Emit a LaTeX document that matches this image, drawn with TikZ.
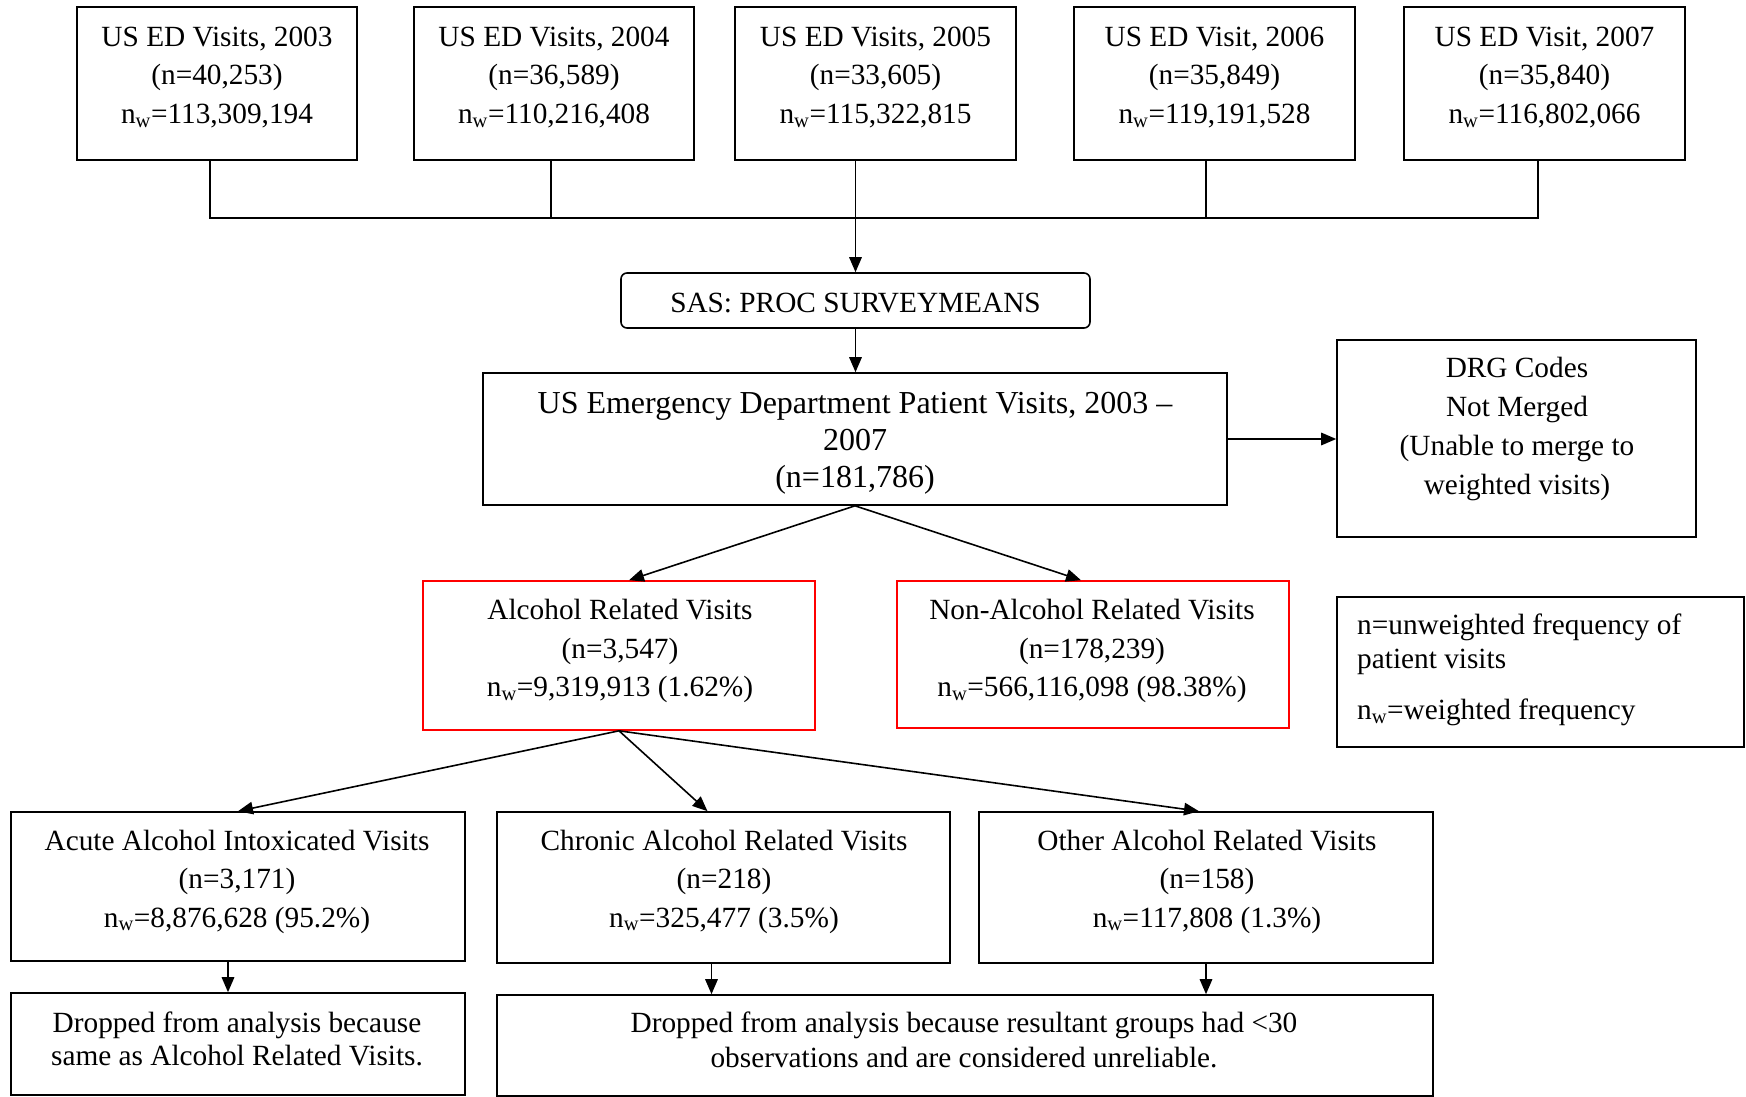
\documentclass[tikz,border=0pt]{standalone}
\usepackage{fontspec}
\setmainfont{Liberation Serif}
\usetikzlibrary{arrows.meta,calc}
\begin{document}
\begin{tikzpicture}[x=1pt,y=-1pt,
  box/.style={draw, line width=1.6pt, rectangle, inner sep=0pt},
  redbox/.style={box, draw=red},
  txt/.style={align=center, inner sep=0pt, font=\fontsize{29.3pt}{38.5pt}\selectfont},
  bigtxt/.style={align=center, inner sep=0pt, font=\fontsize{32pt}{37pt}\selectfont},
  conn/.style={line width=1.6pt},
  arr/.style={line width=1.6pt, -{Triangle[length=15pt,width=12.5pt]}}]
\useasboundingbox (0,0) rectangle (1746,1097);

% top row
\node[box, minimum width=280pt, minimum height=153pt] (b1) at (217,83.5) {};
\node[box, minimum width=280pt, minimum height=153pt] (b2) at (554,83.5) {};
\node[box, minimum width=281pt, minimum height=153pt] (b3) at (875.5,83.5) {};
\node[box, minimum width=281pt, minimum height=153pt] (b4) at (1214.5,83.5) {};
\node[box, minimum width=281pt, minimum height=153pt] (b5) at (1544.5,83.5) {};
\node[txt] (t1) at (217,77.5) {US ED Visits, 2003\\(n=40,253)\\n\textsubscript{w}=113,309,194};
\node[txt] (t2) at (554,77.5) {US ED Visits, 2004\\(n=36,589)\\n\textsubscript{w}=110,216,408};
\node[txt] (t3) at (875.5,77.5) {US ED Visits, 2005\\(n=33,605)\\n\textsubscript{w}=115,322,815};
\node[txt] (t4) at (1214.5,77.5) {US ED Visit, 2006\\(n=35,849)\\n\textsubscript{w}=119,191,528};
\node[txt] (t5) at (1544.5,77.5) {US ED Visit, 2007\\(n=35,840)\\n\textsubscript{w}=116,802,066};

% SAS
\node[box, rounded corners=6pt, minimum width=469pt, minimum height=55pt, text height=24.4pt, text depth=0pt, font=\fontsize{29.3pt}{38.5pt}\selectfont] (sas) at (855.5,300.5) {SAS: PROC SURVEYMEANS};

% main
\node[box, minimum width=744pt, minimum height=132pt] (main) at (855,439) {};
\node[bigtxt] (maint) at (855,443.5) {US Emergency Department Patient Visits, 2003 --\\2007\\(n=181,786)};

% DRG
\node[box, minimum width=359pt, minimum height=197pt] (drg) at (1516.5,438.5) {};
\node[txt, font=\fontsize{29.3pt}{39pt}\selectfont] (drgt) at (1517,429) {DRG Codes\\Not Merged\\(Unable to merge to\\weighted visits)};

% alcohol / non-alcohol
\node[redbox, minimum width=392pt, minimum height=149pt] (alc) at (619,655.5) {};
\node[txt] (alct) at (620,651) {Alcohol Related Visits\\(n=3,547)\\n\textsubscript{w}=9,319,913 (1.62\%)};
\node[redbox, minimum width=392pt, minimum height=147pt] (non) at (1093,654.5) {};
\node[txt] (nont) at (1092,651) {Non-Alcohol Related Visits\\(n=178,239)\\n\textsubscript{w}=566,116,098 (98.38\%)};

% legend
\node[box, minimum width=407pt, minimum height=150pt] (leg) at (1540.5,672) {};
\node[txt, align=left, anchor=west, font=\fontsize{29.3pt}{34pt}\selectfont] (legt) at (1357,670) {n=unweighted frequency of\\patient visits\\[17pt]n\textsubscript{w}=weighted frequency};

% third level
\node[box, minimum width=454pt, minimum height=149pt] (acu) at (238,886.5) {};
\node[txt] (acut) at (237,881.5) {Acute Alcohol Intoxicated Visits\\(n=3,171)\\n\textsubscript{w}=8,876,628 (95.2\%)};
\node[box, minimum width=453pt, minimum height=151pt] (chr) at (723.5,887.5) {};
\node[txt] (chrt) at (724,881.5) {Chronic Alcohol Related Visits\\(n=218)\\n\textsubscript{w}=325,477 (3.5\%)};
\node[box, minimum width=454pt, minimum height=151pt] (oth) at (1206,887.5) {};
\node[txt] (otht) at (1207,881.5) {Other Alcohol Related Visits\\(n=158)\\n\textsubscript{w}=117,808 (1.3\%)};

% bottom
\node[box, minimum width=454pt, minimum height=102pt] (dr1) at (238,1044) {};
\node[txt, font=\fontsize{29.3pt}{33pt}\selectfont] (dr1t) at (237,1038.5) {Dropped from analysis because\\same as Alcohol Related Visits.};
\node[box, minimum width=936pt, minimum height=101pt] (dr2) at (965,1045.5) {};
\node[txt, font=\fontsize{29.3pt}{34.5pt}\selectfont] (dr2t) at (964,1040) {Dropped from analysis because resultant groups had <30\\observations and are considered unreliable.};

% connectors
\coordinate (bus) at (855.5,218);
\draw[conn] ([xshift=-7pt]b1.south) |- (bus);
\draw[conn] ([xshift=-3pt]b2.south) |- (bus);
\draw[conn] ([xshift=-8.5pt]b4.south) |- (bus);
\draw[conn] ([xshift=-6.5pt]b5.south) |- (bus);
\draw[arr] (b3.south -| sas.north) -- (sas.north);
\draw[arr] (sas.south) -- (sas.south |- main.north);
\draw[arr] (main.east) -- (main.east -| drg.west);
\draw[arr] (main.south) -- ([xshift=10pt]alc.north);
\draw[arr] (main.south) -- ([xshift=-12pt]non.north);
\draw[arr] (alc.south) -- (acu.north);
\draw[arr] (alc.south) -- ([xshift=-16pt]chr.north);
\draw[arr] (alc.south) -- ([xshift=-7pt]oth.north);
\coordinate (c1) at ([xshift=-10pt]acu.south);
\coordinate (c2) at ([xshift=-12pt]chr.south);
\draw[arr] (c1) -- (c1 |- dr1.north);
\draw[arr] (c2) -- (c2 |- dr2.north);
\draw[arr] (oth.south) -- (oth.south |- dr2.north);
\end{tikzpicture}
\end{document}
